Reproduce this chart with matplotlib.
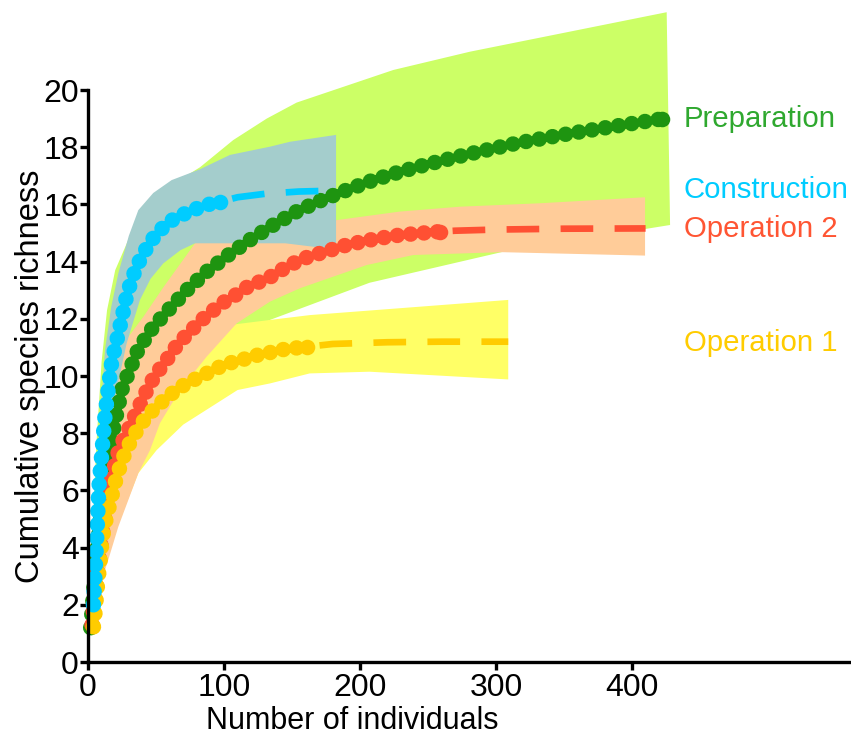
import matplotlib

matplotlib.use('Agg')
import matplotlib.pyplot as plt
import numpy as np

plt.rcParams['font.family'] = ['Liberation Sans', 'DejaVu Sans']

prep_x = [2, 5, 9, 13.7, 18.6, 24.8, 29.6, 37, 48, 60.3, 72.6, 87.3, 103.2, 119.1,
          136.3, 153.4, 171.8, 190.2, 209.8, 229.4, 247.8, 277.2, 315.2, 354.4, 393.6, 422]
prep_y = [1.2, 3.0, 5.0, 6.6, 8.11, 9.51, 10.09, 10.94, 11.72, 12.37, 13.0, 13.65, 14.23, 14.76,
          15.28, 15.75, 16.15, 16.5, 16.85, 17.14, 17.38, 17.73, 18.14, 18.48, 18.78, 18.99]

cons_x = [4, 5, 6.5, 8, 10, 12.5, 15, 17.5, 20.5, 24.8, 28.4, 32, 36, 41, 46, 52, 60, 69, 77, 87, 97]
cons_y = [2.0, 2.9, 4.4, 6.1, 7.2, 8.6, 9.6, 10.5, 11.1, 12.0, 12.8, 13.35, 13.85, 14.3, 14.7,
          15.05, 15.4, 15.63, 15.8, 15.98, 16.09]

op2_x = [3, 6, 10, 15, 21.1, 24.8, 29.6, 37, 41.9, 49.3, 56.6, 62.7, 68.9, 76.2, 83.6, 91, 98.3,
         106.8, 115.4, 124, 132.6, 142.4, 151, 162, 170.6, 190.2, 209.8, 229.4, 249, 258.8]
op2_y = [1.3, 2.8, 4.3, 5.9, 7.18, 7.65, 8.11, 8.87, 9.37, 10.03, 10.47, 10.91, 11.26, 11.61,
         11.96, 12.25, 12.54, 12.77, 13.07, 13.25, 13.42, 13.71, 13.94, 14.17, 14.29, 14.58,
         14.78, 14.93, 15.01, 15.05]

op1_x = [4, 5, 6.4, 7.6, 8.8, 10, 11.5, 13.7, 16.2, 18.6, 21.1, 24.8, 28.4, 33.3, 38.2, 44.3,
         51.7, 59, 66.4, 75, 84.8, 94.6, 103.2, 113, 121.6, 131.4, 141.2, 151, 161]
op1_y = [1.23, 1.64, 2.4, 2.98, 3.45, 4.1, 4.6, 5.08, 5.55, 6.01, 6.48, 7.0, 7.45, 7.88, 8.27,
         8.64, 8.99, 9.28, 9.57, 9.8, 10.03, 10.27, 10.44, 10.56, 10.7, 10.79, 10.91, 10.97, 11.02]

# ---- extrapolated parts ----
cons_ex_x = [97, 110, 130, 155, 180.4]
cons_ex_y = [16.09, 16.25, 16.37, 16.45, 16.48]
op2_ex_x = [258.8, 270, 300, 350, 410]
op2_ex_y = [15.05, 15.08, 15.12, 15.15, 15.16]
op1_ex_x = [161, 180, 220, 260, 309]
op1_ex_y = [11.02, 11.12, 11.18, 11.2, 11.2]

# ---- confidence bands (upper / lower edges) ----
prep_up_x = [2, 6, 10, 14, 20, 30, 45, 62, 82.4, 106.8, 131.4, 153.4, 224.5, 280.9, 425.5]
prep_up_y = [3.0, 7.5, 10.5, 12.3, 13.7, 14.8, 15.9, 16.7, 17.3, 18.25, 19.0, 19.56, 20.7, 21.34, 22.72]
prep_lo_x = [2, 10, 22, 37, 60, 90, 133.8, 207, 304, 428]
prep_lo_y = [1.0, 3.4, 5.5, 7.5, 9.3, 10.8, 11.96, 13.26, 14.33, 15.28]

cons_up_x = [3, 6, 9, 12.5, 17, 22.3, 30, 37, 48, 61.5, 82.4, 104.4, 134, 148.5, 182.4]
cons_up_y = [2.4, 5.5, 8.5, 10.9, 12.4, 13.59, 14.9, 15.8, 16.4, 16.85, 17.23, 17.73, 18.02, 18.19, 18.43]
cons_lo_x = [3, 6, 10, 15, 20, 28.4, 38.2, 46, 55.4, 68, 78.7, 145, 165.7, 182.4]
cons_lo_y = [1.6, 2.8, 4.8, 7.6, 9.3, 11.14, 12.66, 13.4, 13.94, 14.4, 14.64, 14.64, 14.52, 14.46]

op2_up_x = [2, 8, 15, 22.3, 40.7, 55.4, 78.7, 120, 150, 182.8, 229.4, 273.5, 332.4, 409.6]
op2_up_y = [1.8, 5.8, 8.8, 10.9, 12.07, 13.1, 14.64, 15.05, 15.3, 15.45, 15.75, 15.92, 16.04, 16.25]
op2_lo_x = [2, 10.1, 14.9, 22.3, 37, 45.6, 52.9, 67.6, 87.3, 109.3, 133.8, 155.9, 204.9, 239.2, 304, 409.6]
op2_lo_y = [1.0, 2.87, 3.57, 4.73, 6.6, 7.41, 8.35, 9.51, 10.68, 11.84, 12.6, 13.07, 13.88, 14.23, 14.33, 14.21]

op1_up_x = [3, 10, 20, 35, 55, 80, 107, 133.8, 163.2, 309]
op1_up_y = [1.6, 4.6, 7.5, 9.3, 10.4, 11.3, 11.8, 11.96, 12.13, 12.66]
op1_lo_x = [3, 10, 22, 37, 50.5, 70, 110, 133.8, 163, 207, 309]
op1_lo_y = [0.9, 3.0, 4.8, 6.6, 7.41, 8.3, 9.51, 9.74, 10.09, 10.15, 9.88]

labels = ['Preparation', 'Construction', 'Operation 2', 'Operation 1']
label_y = [18.99, 16.5, 15.14, 11.15]
line_cols = ['#1e9410', '#00ccff', '#ff5033', '#ffcc00']
text_cols = ['#2fa82f', '#00ccff', '#ff5533', '#ffcc00']

fig = plt.figure(figsize=(8.51, 7.36), dpi=100)
ax = fig.add_axes([88 / 851, 74 / 736, 761.6 / 851, 572 / 736])


def band(ux, uy, lx, ly, color, z):
    px = np.concatenate([ux, lx[::-1]])
    py = np.concatenate([uy, ly[::-1]])
    ax.fill(px, py, color=color, lw=0, zorder=z, clip_on=False)


band(prep_up_x, prep_up_y, prep_lo_x, prep_lo_y, '#ccff66', 1)
band(op1_up_x, op1_up_y, op1_lo_x, op1_lo_y, '#ffff66', 2)
band(op2_up_x, op2_up_y, op2_lo_x, op2_lo_y, '#ffcc99', 3)
band(cons_up_x, cons_up_y, cons_lo_x, cons_lo_y, '#a4cdcc', 4)

# dotted curves: round caps give a chain of dots evenly spaced along the curve
dot_style = (0, (0.001, 0.86))
dash_style = (6.2, (4.9, 3.2))
dot_lw = 11.2
dash_lw = 4.8


def dotted(x, y, color, z):
    ax.plot(x, y, color=color, lw=dot_lw, ls=dot_style, dash_capstyle='round',
            marker='o', markersize=dot_lw, markeredgewidth=0, markevery=[len(x) - 1],
            zorder=z, clip_on=False)


def dashed(x, y, color, z):
    ax.plot(x, y, color=color, lw=dash_lw, ls=dash_style, dash_capstyle='butt', zorder=z)


dotted(prep_x, prep_y, line_cols[0], 5)
dotted(op2_x, op2_y, line_cols[2], 6)
dashed(op2_ex_x, op2_ex_y, line_cols[2], 6)
dotted(op1_x, op1_y, line_cols[3], 7)
dashed(op1_ex_x, op1_ex_y, line_cols[3], 7)
dotted(cons_x, cons_y, line_cols[1], 8)
dashed(cons_ex_x, cons_ex_y, line_cols[1], 8)

for lab, ly, c in zip(labels, label_y, text_cols):
    ax.text(438, ly, lab, color=c, fontsize=21.2, ha='left', va='center', clip_on=False)

ax.set_xlim(0, 560)
ax.set_ylim(0, 20)
ax.set_xticks([0, 100, 200, 300, 400])
ax.set_yticks(np.arange(0, 21, 2))
for s in ['top', 'right']:
    ax.spines[s].set_visible(False)
for s in ['left', 'bottom']:
    ax.spines[s].set_linewidth(2.4)
    ax.spines[s].set_zorder(10)
ax.tick_params(labelsize=23, length=6, width=2.4)
ax.tick_params(axis='y', pad=0.5)
ax.tick_params(axis='x', pad=2)

ax.set_xlabel('Number of individuals', fontsize=22)
ax.set_ylabel('Cumulative species richness', fontsize=23.5)
ax.xaxis.set_label_coords(0.347, -0.077)
ax.yaxis.set_label_coords(-0.055, 0.5)

fig.savefig('out.png', dpi=100)
